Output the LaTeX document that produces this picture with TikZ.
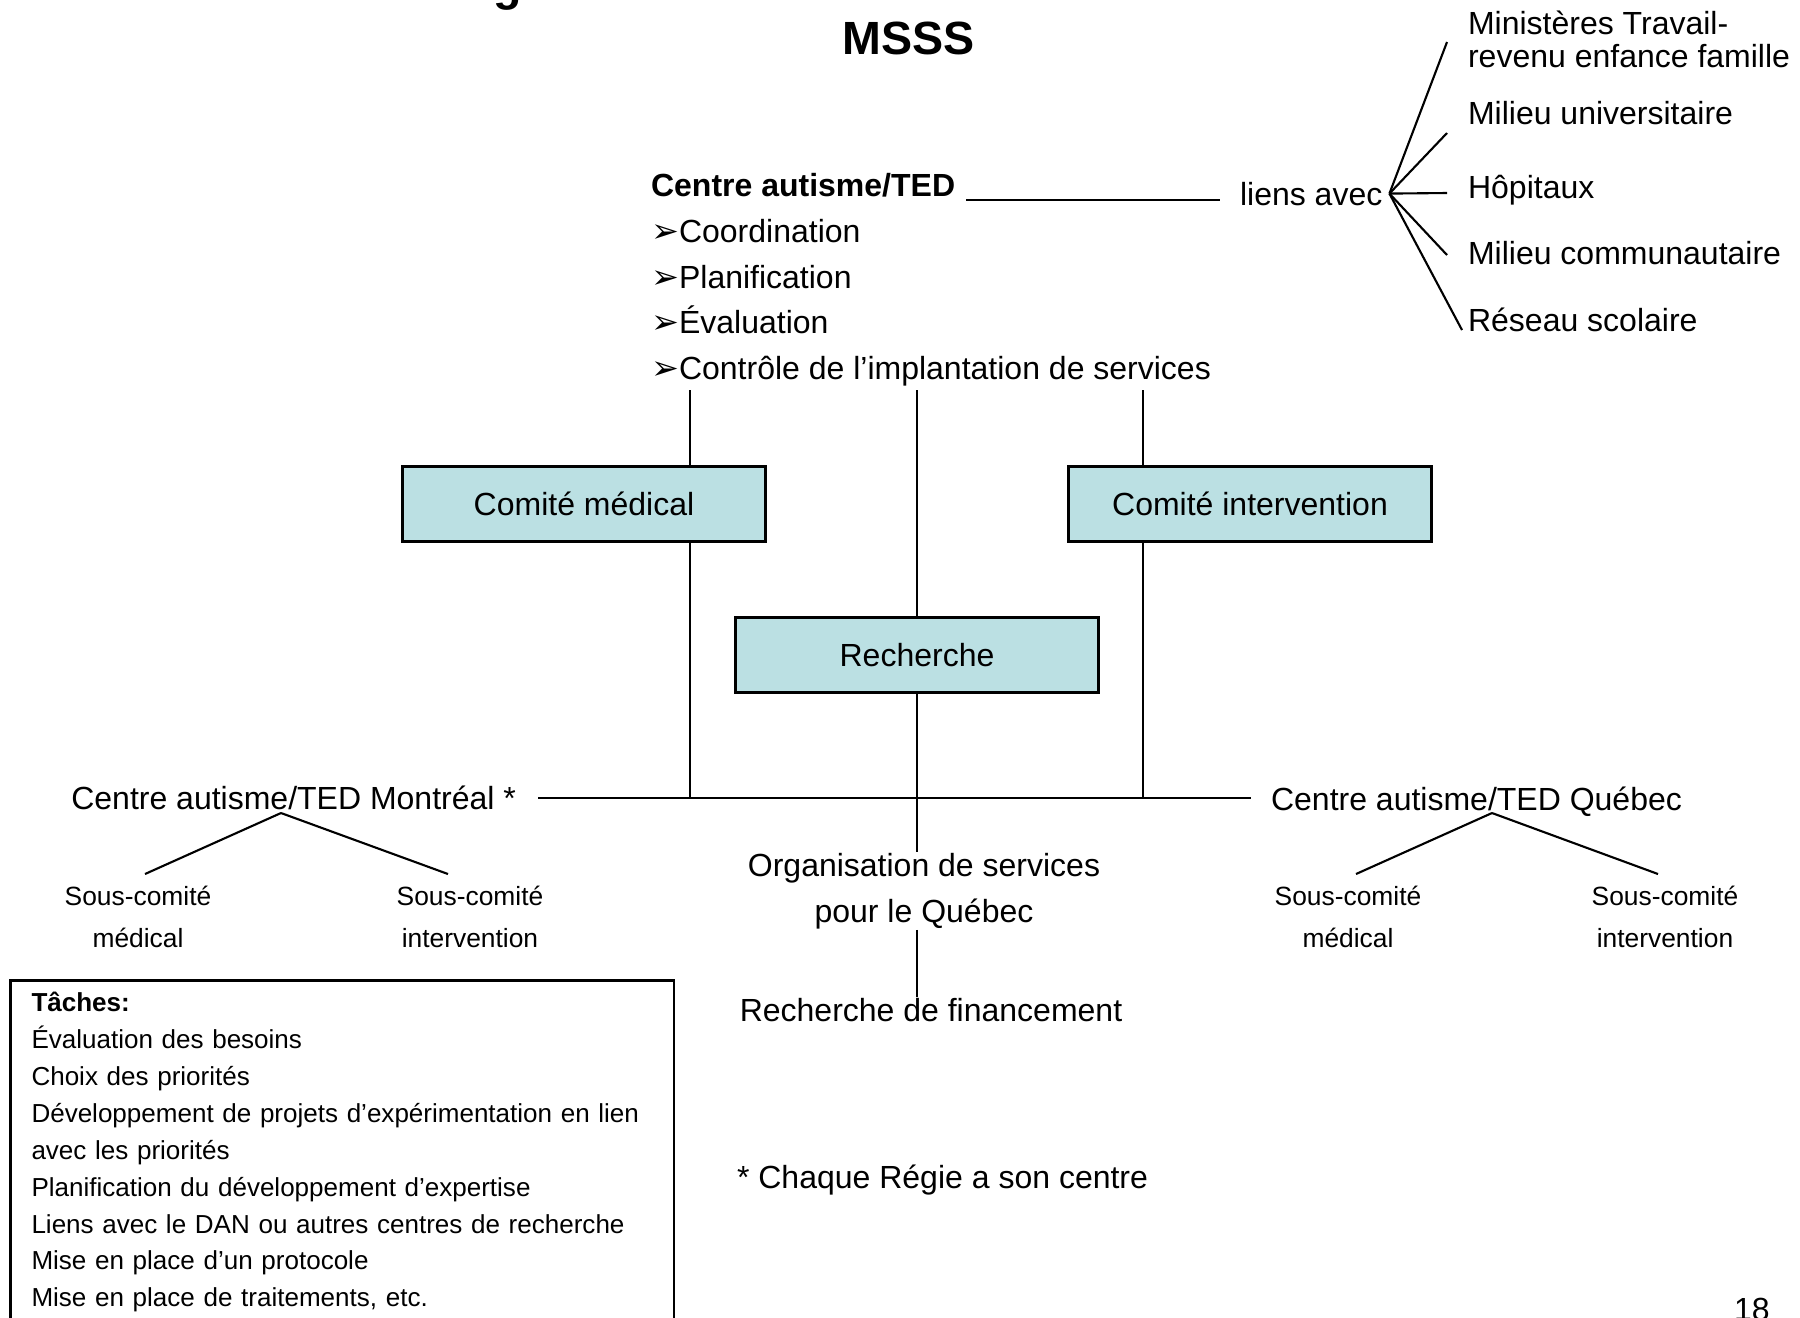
\documentclass[tikz,border=0pt]{standalone}
\usepackage{fontspec}
\setmainfont{Liberation Sans}
\newfontfamily\arrowfont{DejaVu Sans}
\usetikzlibrary{calc}
\definecolor{comitefill}{RGB}{187,224,227}
\newcommand\mainsize{\fontsize{9.1}{13}\selectfont}
\newcommand\smallsize{\fontsize{7.4}{10.5}\selectfont}
\newcommand\subsize{\fontsize{7.5}{12}\selectfont}
\newcommand\titlesize{\fontsize{13.25}{16}\selectfont}
\newcommand\bul{{\arrowfont\fontsize{9.5}{13}\selectfont ➢}}

\begin{document}
\begin{tikzpicture}[x=0.01cm, y=-0.01cm, line width=0.6pt,
  txt/.style={font=\mainsize, inner sep=0pt},
  sub/.style={font=\subsize, inner sep=0pt, align=center},
  comite/.style={draw, line width=0.8pt, fill=comitefill, font=\mainsize,
    minimum width=3.63cm, minimum height=0.75cm}]
  \useasboundingbox (0,0) rectangle (1800,1317);
  \node[font=\titlesize\bfseries, anchor=base] (cut) at (508,0) {g};
  \node[font=\titlesize\bfseries] (msss) at (909,38) {MSSS};

  \node[txt, font=\mainsize\bfseries, anchor=base west] (ctr) at (650,196) {Centre autisme/TED};
  \node[txt, anchor=base west] (coord) at (650,242) {\bul Coordination};
  \node[txt, anchor=base west] (plan) at (650,288) {\bul Planification};
  \node[txt, anchor=base west] (eval) at (650,333) {\bul Évaluation};
  \node[txt, anchor=base west] (ctrl) at (650,379) {\bul Contrôle de l’implantation de services};

  \node[txt, anchor=base west] (liens) at (1239,205) {liens avec};
  \coordinate (fan) at ($(liens.east)+(6,0)$);
  \draw ($(ctr.base east)+(10,4)$) -- ($(liens.base west)+(-19,-5)$);

  \node[txt, anchor=west, align=left, font={\fontsize{9.1}{9.4}\selectfont}] (mini) at (1467,39) {Ministères Travail-\\revenu enfance famille};
  \node[txt, anchor=base west] (univ) at (1467,124) {Milieu universitaire};
  \node[txt, anchor=base west] (hop) at (1467,198) {Hôpitaux};
  \node[txt, anchor=base west] (comm) at (1467,264) {Milieu communautaire};
  \node[txt, anchor=base west] (res) at (1467,331) {Réseau scolaire};
  \draw (fan) -- ($(mini.west)+(-20,3)$);
  \draw (fan) -- ($(univ.base west)+(-20,9)$);
  \draw (fan) -- ($(hop.base west)+(-20,-5)$);
  \draw (fan) -- ($(comm.base west)+(-20,-9)$);
  \draw (fan) -- ($(res.base west)+(-5,-1)$);

  \node[comite] (med) at (584,504) {Comité médical};
  \node[comite] (inter) at (1250,504) {Comité intervention};
  \node[comite] (rech) at (917,655) {Recherche};

  \node[txt, anchor=east] (mtl) at (517,798) {Centre autisme/TED Montréal *};
  \node[txt, anchor=base west] (qc) at (1270,810) {Centre autisme/TED Québec};
  \draw ([xshift=6pt]mtl.east) -- ([xshift=-5.5pt]qc.west |- mtl.east);

  \coordinate (t1) at (690,390);
  \coordinate (t3) at (1143,390);
  \draw (t1) -- (t1 |- med.north);
  \draw (t1 |- med.south) -- (t1 |- mtl.east);
  \draw (t3) -- (t3 |- inter.north);
  \draw (t3 |- inter.south) -- (t3 |- mtl.east);
  \draw (rech.north |- t1) -- (rech.north);

  \node[txt, align=center] (org) at (924,891) {Organisation de services\\pour le Québec};
  \node[txt, anchor=base] (fin) at (931,1021) {Recherche de financement};
  \draw (rech.south) -- (rech.south |- org.north);
  \draw (rech.south |- org.south) -- (rech.south |- fin.north);

  \node[sub] (mmed) at (138,917) {Sous-comité\\médical};
  \node[sub] (mint) at (470,917) {Sous-comité\\intervention};
  \node[sub] (qmed) at (1348,917) {Sous-comité\\médical};
  \node[sub] (qint) at (1665,917) {Sous-comité\\intervention};
  \coordinate (mfan) at (281,813);
  \coordinate (qfan) at (1492,813);
  \draw (mfan) -- ($(mmed.north)+(7,-11)$);
  \draw (mfan) -- ($(mint.north)+(-22,-11)$);
  \draw (qfan) -- ($(qmed.north)+(8,-11)$);
  \draw (qfan) -- ($(qint.north)+(-7,-11)$);

  \node[draw, line width=0.8pt, anchor=north west, font=\smallsize, align=left,
    text width=176.7pt, inner xsep=6pt, inner ysep=3.3pt] (taches) at (9,979)
    {\textbf{Tâches:}\\
     Évaluation des besoins\\
     Choix des priorités\\
     \mbox{Développement de projets d’expérimentation en lien}\\
     avec les priorités\\
     Planification du développement d’expertise\\
     Liens avec le DAN ou autres centres de recherche\\
     Mise en place d’un protocole\\
     Mise en place de traitements, etc.\rule[-12pt]{0pt}{0pt}};

  \node[txt, anchor=base west] (note) at (736,1188) {* Chaque Régie a son centre};
  \node[txt, anchor=base west] (page) at (1733,1320) {18};
\end{tikzpicture}
\end{document}
